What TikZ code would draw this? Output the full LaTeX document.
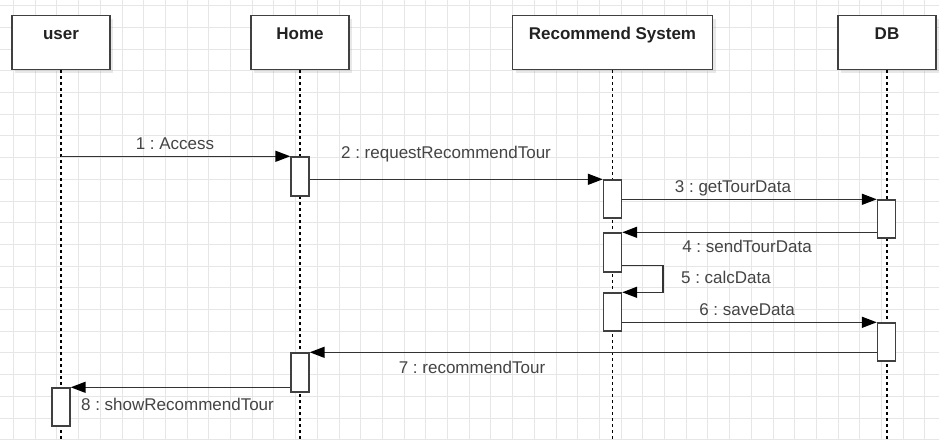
\documentclass[tikz,border=0pt]{standalone}
\usepackage{fontspec}
\setmainfont{Liberation Sans}
\usetikzlibrary{arrows.meta,shadows}
\frenchspacing

\definecolor{gridline}{HTML}{E6E6E6}
\definecolor{boxline}{HTML}{404040}
\definecolor{msgline}{HTML}{333333}
\definecolor{labeltext}{HTML}{444444}
\definecolor{titletext}{HTML}{222222}

\tikzset{
  partbox/.style={draw=boxline, line width=1.4pt, fill=white, minimum height=54pt,
    inner sep=0pt, anchor=north,
    drop shadow={shadow xshift=3pt, shadow yshift=-3pt, opacity=0.18}},
  parttitle/.style={anchor=base, font=\fontsize{17}{20}\selectfont\bfseries, text=titletext, inner sep=0pt},
  lifeline/.style={draw=black, line width=1.3pt, dash pattern=on 3pt off 3pt},
  actbox/.style={draw=boxline, line width=1.4pt, fill=white, minimum width=18pt, inner sep=0pt},
  msg/.style={draw=msgline, line width=1.5pt,
    -{Triangle[length=15pt,width=11pt,color=black,fill=black]}},
  msglabel/.style={anchor=base, font=\fontsize{17}{20}\selectfont, text=labeltext, inner sep=1pt}
}

\begin{document}
\begin{tikzpicture}[x=1pt,y=-1pt]
  \useasboundingbox (0,0) rectangle (939,439);
  \fill[white] (0,0) rectangle (939,439);

  % background grid
  \foreach \i in {0,...,43} {
    \draw[gridline, line width=0.8pt] ({13.4+21.7*\i},0) -- ({13.4+21.7*\i},439);
  }
  \foreach \j in {0,...,20} {
    \draw[gridline, line width=0.8pt] (0,{5.6+21.7*\j}) -- (939,{5.6+21.7*\j});
  }

  \coordinate (bottom) at (0,439);

  % participants
  \node[partbox, minimum width=98pt]  (user) at (61,15)    {};
  \node[partbox, minimum width=98pt]  (home) at (300,15)   {};
  \node[partbox, minimum width=200pt] (rec)  at (612.5,15) {};
  \node[partbox, minimum width=98pt]  (db)   at (887,15)   {};

  \node[parttitle] (userT) at (61,39.5)    {user};
  \node[parttitle] (homeT) at (300,39.5)   {Home};
  \node[parttitle] (recT)  at (612.5,39.5) {Recommend System};
  \node[parttitle] (dbT)   at (887,39.5)   {DB};

  % lifelines
  \draw[lifeline] (user.south) -- (user.south |- bottom);
  \draw[lifeline] (home.south) -- (home.south |- bottom);
  \draw[lifeline] (rec.south)  -- (rec.south |- bottom);
  \draw[lifeline] (db.south)   -- (db.south |- bottom);

  % activation bars
  \node[actbox, minimum height=39pt] (hA1) at (300,176.5)   {};
  \node[actbox, minimum height=38pt] (rA1) at (612.5,199)   {};
  \node[actbox, minimum height=38pt] (dA1) at (886.5,219)   {};
  \node[actbox, minimum height=39pt] (rA2) at (612.5,252.5) {};
  \node[actbox, minimum height=38pt] (rA3) at (612.5,312)   {};
  \node[actbox, minimum height=38pt] (dA2) at (886.5,342)   {};
  \node[actbox, minimum height=39pt] (hA2) at (300,372.5)   {};
  \node[actbox, minimum height=38pt] (uA)  at (61,407)      {};

  % messages
  \draw[msg] (user.south |- hA1.north) -- (hA1.north west);
  \draw[msg] (hA1.east |- rA1.north) -- (rA1.north west);
  \draw[msg] (rA1.east |- dA1.north) -- (dA1.north west);
  \draw[msg] (dA1.west |- rA2.north) -- (rA2.north east);
  \draw[msg] ([yshift=7pt]rA2.south east) -- ++(41,0) |- (rA3.north east);
  \draw[msg] (rA3.east |- dA2.north) -- (dA2.north west);
  \draw[msg] (dA2.west |- hA2.north) -- (hA2.north east);
  \draw[msg] (hA2.west |- uA.north) -- (uA.north east);

  % message labels
  \node[msglabel] (m1) at (175,149)   {1 : Access};
  \node[msglabel] (m2) at (446,158)   {2 : requestRecommendTour};
  \node[msglabel] (m3) at (733,192)   {3 : getTourData};
  \node[msglabel] (m4) at (747,252)   {4 : sendTourData};
  \node[msglabel] (m5) at (726,283)   {5 : calcData};
  \node[msglabel] (m6) at (747,315)   {6 : saveData};
  \node[msglabel] (m7) at (472,373)   {7 : recommendTour};
  \node[msglabel] (m8) at (177.5,410) {8 : showRecommendTour};
\end{tikzpicture}
\end{document}
